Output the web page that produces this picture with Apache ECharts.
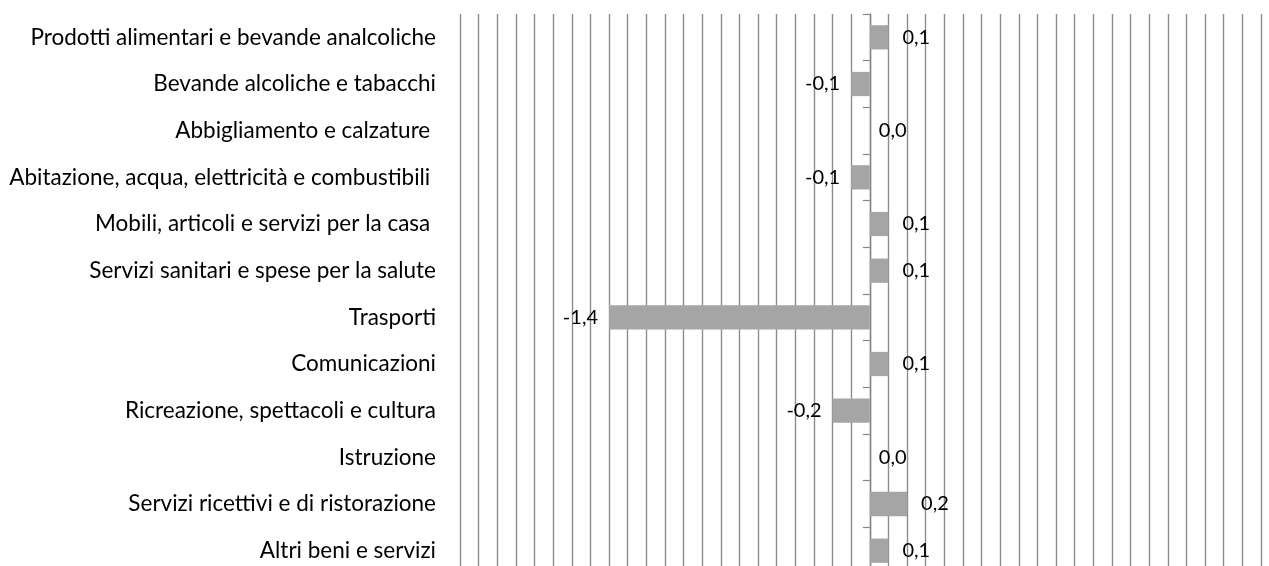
<!DOCTYPE html>
<html>
<head>
<meta charset="utf-8">
<script src="https://cdn.jsdelivr.net/npm/echarts@6/dist/echarts.min.js"></script>
<style>
  html, body { margin: 0; padding: 0; background: #fff; }
  #chart { width: 1269px; height: 566px; }
</style>
</head>
<body>
<div id="chart"></div>
<script>
// categorie (dall'alto in basso)
const categories = [
  'Prodotti alimentari e bevande analcoliche',
  'Bevande alcoliche e tabacchi',
  'Abbigliamento e calzature ',
  'Abitazione, acqua, elettricità e combustibili ',
  'Mobili, articoli e servizi per la casa ',
  'Servizi sanitari e spese per la salute',
  'Trasporti',
  'Comunicazioni',
  'Ricreazione, spettacoli e cultura',
  'Istruzione',
  'Servizi ricettivi e di ristorazione',
  'Altri beni e servizi'
]
const values = [0.1, -0.1, 0.0, -0.1, 0.1, 0.1, -1.4, 0.1, -0.2, 0.0, 0.2, 0.1]

const xMin = -2.2
const xMax = 2.1
const xStep = 0.1

const chart = echarts.init(document.getElementById('chart'))

function fmt(v) {
  return v.toFixed(1).replace('.', ',')
}

const barData = values.map(v => {
  let pos = 'right'
  let dist = 14
  if (v < 0) {
    pos = 'left'
    dist = 11
  } else if (v === 0) {
    dist = 9
  }
  return {
    value: v,
    label: {position: pos, distance: dist}
  }
})

chart.setOption({
  animation: false,
  grid: {
    left: 460,
    right: 8,
    top: 14,
    bottom: -8,
    containLabel: false,
    outerBoundsMode: 'none',
  },
  xAxis: {
    type: 'value',
    min: xMin,
    max: xMax,
    interval: xStep,
    axisLine: {show: false},
    axisTick: {show: false},
    axisLabel: {show: false},
    splitLine: {
      show: true,
      lineStyle: {color: '#8e8e8e', width: 1.4},
    },
  },
  yAxis: {
    type: 'category',
    data: categories,
    inverse: true,
    axisLine: {
      show: true,
      onZero: true,
      lineStyle: {color: '#868686', width: 1.4},
    },
    axisTick: {
      show: true,
      length: 7,
      lineStyle: {color: '#868686', width: 1.2},
    },
    axisLabel: {
      margin: 24,
      color: '#000',
      fontFamily: 'Lato',
      fontSize: 22.5,
    },
  },
  series: [
    {
      type: 'bar',
      data: barData,
      barCategoryGap: '48%',
      itemStyle: {color: '#a5a5a5'},
      label: {
        show: true,
        color: '#000',
        fontFamily: 'Lato',
        fontSize: 20,
        formatter: p => fmt(p.value),
      },
    },
  ],
})
</script>
</body>
</html>
